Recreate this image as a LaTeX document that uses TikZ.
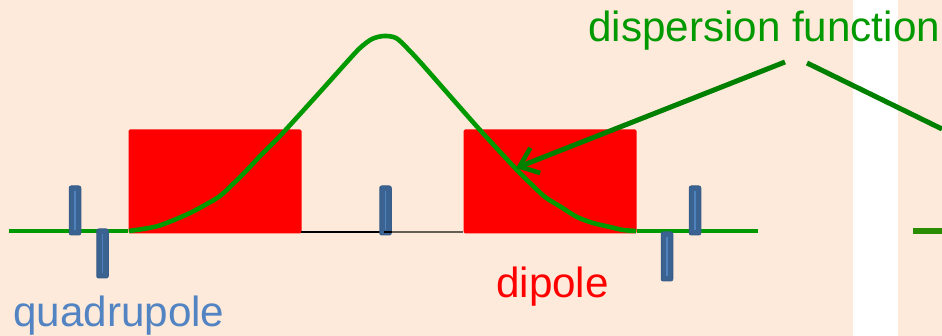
\documentclass[tikz,border=0pt]{standalone}
\usepackage{fontspec}
\setmainfont{Liberation Sans}
\usepackage{xcolor}
\usetikzlibrary{arrows.meta}
\definecolor{latticebg}{HTML}{FDEADA}
\definecolor{dispgreen}{HTML}{009900}
\definecolor{arrowgreen}{HTML}{008000}
\definecolor{stubgreen}{HTML}{2A8C00}
\definecolor{quadblue}{HTML}{3A6391}
\definecolor{quadedge}{HTML}{385D8A}
\definecolor{quadlight}{HTML}{4F81BD}
\definecolor{quadtext}{HTML}{5283C2}

\begin{document}
\begin{tikzpicture}[x=1pt,y=-1pt,
    dipolebox/.style={fill=red,inner sep=0pt,minimum width=173pt,minimum height=104pt,rounded corners=1.5pt},
    quadbar/.style={fill=quadblue,draw=quadedge,line width=1pt,rounded corners=2pt,inner sep=0pt,minimum width=11.5pt,minimum height=49pt,
        path picture={\draw[quadlight,line width=1.2pt] ([yshift=-5pt]path picture bounding box.north) -- ([yshift=5pt]path picture bounding box.south);}},
    bigtext/.style={font=\fontsize{42.2}{50}\selectfont,inner sep=0pt,anchor=base west},
    dispersion/.style={dispgreen,line width=4.6pt},
    pointer/.style={arrowgreen,line width=5pt}]
    % Background with the white strip
    \fill[latticebg] (0,0) rectangle (942,336);
    \fill[white] (853,0) rectangle (898,336);
    \useasboundingbox (0,0) rectangle (942,336);

    % Dipoles
    \node[dipolebox] (dipoleA) at (215,181.5) {};
    \node[dipolebox] (dipoleB) at (550,181.5) {};

    % Beam line ends
    \coordinate (beamstart) at (9,231);
    \coordinate (beamend) at (758,231);
    \coordinate (nextstart) at (913,231);
    \coordinate (nextend) at (942,231);
    \coordinate (midbeam) at (384,232);

    % Black drift between the dipoles
    \draw[black,line width=2pt] (301,232) -- (midbeam);

    % Dispersion function
    \draw[dispersion] (beamstart) -- (dipoleA.south west |- beamstart);
    \draw[dispersion] (dipoleB.south east |- beamend) -- (beamend);
    \draw[dispersion,line join=round] plot[smooth,tension=0.5] coordinates {
        (129,231) (143,229) (158,226) (174,220) (190,213) (205,205) (220,196) (234,183) (247,170)
        (263,153) (280,136) (320,92) (346,63) (360,48) (372,39) (384,36) (396,38) (407,48)
        (421,63) (450,96) (480,130) (515,168) (530,183) (545,197) (561,207)
        (577,217) (593,223) (610,227) (623,230) (636,231)};
    \draw[stubgreen,line width=5.5pt] (nextstart) -- (nextend);

    % Quadrupoles
    \node[quadbar] (quadA) at (75,210.5) {};
    \node[quadbar] (quadB) at (102.5,253.5) {};
    \node[quadbar] (quadC) at (385.5,210.5) {};
    \node[quadbar] (quadD) at (667,256.5) {};
    \node[quadbar] (quadE) at (695,210.5) {};

    % Second half of the drift lies over the bar
    \draw[black,line width=1.4pt] (midbeam) -- (quadC.east |- midbeam);
    \draw[black!60!latticebg,line width=1.4pt] (quadC.east |- midbeam) -- (dipoleB.south west |- midbeam);

    % Labels
    \node[bigtext,dispgreen] (displabel) at (588,42) {dispersion function};
    \node[bigtext,red] (dipolelabel) at (496,298) {dipole};
    \node[bigtext,quadtext] (quadlabel) at (13,327) {quadrupole};

    % Pointers from the label
    \coordinate (pointA) at (785,62);
    \coordinate (target) at (516,168);
    \coordinate (pointB) at (807,63);
    \coordinate (offpage) at (942,129);
    \draw[pointer,-{Straight Barb[length=17pt,width=27pt,line width=4.6pt]}] (pointA) -- (target);
    \draw[pointer] (pointB) -- (offpage);
\end{tikzpicture}
\end{document}
